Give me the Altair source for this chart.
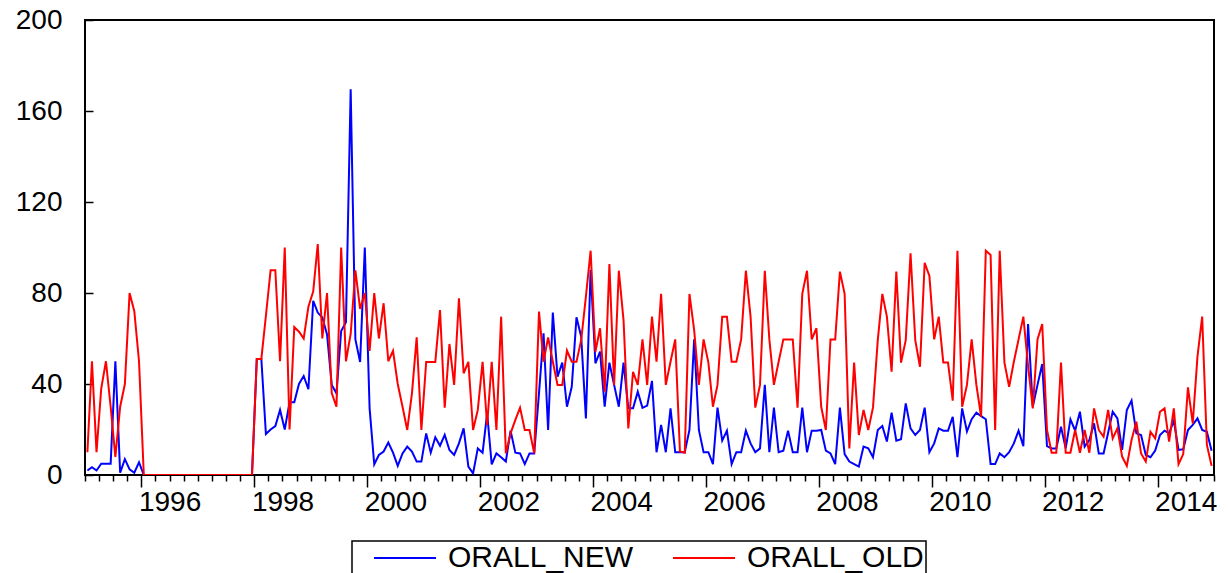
import altair as alt
import pandas as pd

series_names = ["ORALL_NEW", "ORALL_OLD"]
series_colors = ["#0000FF", "#FF0000"]
start_month = "1995-01-01"

orall_new = [
    2, 3.4, 2, 5, 5, 5, 50, 1, 7, 2.5, 1, 5.6,                       # 1995
    0, 0, 0, 0, 0, 0, 0, 0, 0, 0, 0, 0,                              # 1996
    0, 0, 0, 0, 0, 0, 0, 0, 0, 0, 0, 0,                              # 1997
    51, 51, 18, 20, 21.5, 28.6, 20, 32, 32, 40, 43.5, 37.7,          # 1998
    76.6, 71.4, 69.2, 61.8, 39.6, 35.9, 63.3, 67.1, 169.5, 59.6, 49.7, 100,  # 1999
    29.3, 4.7, 8.8, 10.3, 14.3, 9.8, 4, 9.5, 12.5, 10.3, 5.9, 5.9,  # 2000
    18.3, 9.8, 16.6, 12.9, 17.6, 11, 8.8, 13.9, 20.5, 3.7, 0.7, 11.7,  # 2001
    9.8, 27.1, 4.7, 9.5, 7.8, 5.9, 19.5, 9.8, 9.5, 4.8, 9.5, 9.5,   # 2002
    36, 62.3, 19.8, 71.4, 43.2, 49.4, 30, 38.8, 69.3, 60.8, 24.9, 90.1,  # 2003
    49.1, 54.2, 30, 49.4, 39.6, 30, 49.4, 29.3, 29.3, 36.6, 29.5, 30.5,  # 2004
    41.4, 10, 22, 10, 29.3, 10, 10, 10, 19.8, 59.6, 19.8, 10,        # 2005
    10, 4.8, 29.6, 15.1, 19.5, 4.8, 10, 10, 19.5, 13.9, 10, 11.7,    # 2006
    39.6, 10, 29.6, 10, 10.7, 19.5, 10, 10, 29.6, 10, 19.5, 19.5,    # 2007
    19.8, 10.7, 9.5, 4.8, 29.6, 9.2, 5.9, 4.8, 3.7, 12.5, 11.7, 7.8,  # 2008
    19.8, 21.5, 14.7, 27.4, 15.1, 15.7, 31.5, 20.5, 17.6, 19.8, 29.6, 10,  # 2009
    13.9, 20.5, 19.5, 19.5, 25.6, 7.8, 29.3, 19.1, 24.5, 27.4, 25.9, 24.5,  # 2010
    4.8, 4.8, 9.5, 7.8, 10, 13.9, 19.5, 12.7, 66.4, 30, 39.6, 48.8,  # 2011
    12.7, 11.7, 11.7, 21.2, 11.7, 24.5, 19.5, 27.8, 12.5, 15.4, 22.7, 9.5,  # 2012
    9.5, 18.6, 27.8, 24.9, 11, 28.6, 32.7, 18.3, 17.6, 8.8, 7.8, 10.7,  # 2013
    17.6, 19.5, 18.3, 23.9, 11, 11.3, 19.8, 22, 24.9, 19.8, 19, 10.7,  # 2014
]

orall_old = [
    10, 50, 10, 38, 50, 30, 8, 30, 40, 80, 72, 50,                   # 1995
    0, 0, 0, 0, 0, 0, 0, 0, 0, 0, 0, 0,                              # 1996
    0, 0, 0, 0, 0, 0, 0, 0, 0, 0, 0, 0,                              # 1997
    51, 51, 70, 90, 90, 50, 100, 20, 65, 63, 60, 74,                 # 1998
    80.6, 101.5, 60, 80, 36, 30, 100, 50, 62, 90, 73, 80,            # 1999
    54.5, 80, 60, 75.5, 50, 54.6, 40, 30, 19.8, 35.9, 60.5, 19.8,    # 2000
    49.7, 49.7, 49.7, 72.5, 29.6, 57.6, 39.6, 77.7, 44.7, 49.7, 19.8, 28.6,  # 2001
    49.7, 22, 49.7, 19.8, 69.6, 9.5, 18.3, 24.2, 29.6, 19.8, 19.8, 9.5,  # 2002
    71.8, 49.8, 60.5, 49.8, 39.6, 39.6, 54.7, 49.8, 49.8, 59.3, 78.4, 98.6,  # 2003
    54.2, 64.5, 36.6, 92.7, 39.6, 89.8, 68.1, 20.5, 45.4, 39.6, 59.6, 39.6,  # 2004
    69.6, 49.8, 79.6, 39.6, 49.8, 59.6, 10.3, 9.8, 79.6, 63.7, 39.6, 59.6,  # 2005
    49.4, 30, 39.6, 69.6, 69.6, 49.8, 49.8, 59.6, 89.8, 69.6, 29.6, 39.6,  # 2006
    89.8, 59.6, 39.6, 49.8, 59.6, 59.6, 59.6, 29.6, 79.6, 89.8, 59.6, 64.5,  # 2007
    30, 19.8, 59.6, 59.6, 89.4, 79.6, 11.7, 49.4, 17.6, 28.6, 19.8, 29.6,  # 2008
    59.3, 79.6, 69.6, 45.4, 89.4, 49.4, 59.3, 97.4, 59.3, 47.6, 93.3, 87.5,  # 2009
    59.6, 69.6, 49.4, 49.4, 32.7, 98.6, 30, 39.6, 59.6, 39.6, 25.6, 98.6,  # 2010
    96.7, 19.8, 98.6, 49.4, 38.8, 49.8, 59.6, 69.6, 48, 29.3, 59.6, 66.4,  # 2011
    19.8, 9.8, 9.8, 49.4, 9.8, 9.8, 19.8, 9.8, 19.8, 9.8, 29.3, 19.8,  # 2012
    16.8, 28.6, 16.1, 20.5, 8.1, 4, 15.4, 23.4, 9.5, 5.9, 19, 16.1,  # 2013
    27.8, 29.3, 14.7, 29.3, 4.8, 9.2, 38.5, 22.7, 52, 69.6, 13.2, 4,  # 2014
]

y_ticks = [0, 40, 80, 120, 160, 200]

months = pd.date_range(start_month, periods=len(orall_new), freq="MS").strftime("%Y-%m-%d").tolist()
df = pd.DataFrame({
    "date": months + months,
    "value": orall_new + orall_old,
    "series": [series_names[0]] * len(orall_new) + [series_names[1]] * len(orall_old),
})

FONT = "Liberation Sans"
FS = 28
major_test = "utcmonth(datum.value) === 0 && utcyear(datum.value) % 2 === 0"

chart = alt.Chart(df).mark_line(strokeWidth=2, clip=True).encode(
    x=alt.X(
        "utcyearmonth(date):T",
        bandPosition=0.5,
        scale=alt.Scale(
            type="utc",
            domain=[alt.DateTime(year=1995, month=1, date=1, utc=True),
                    alt.DateTime(year=2015, month=1, date=1, utc=True)],
            nice=False,
        ),
        axis=alt.Axis(
            title=None,
            grid=False,
            domain=False,
            tickCount=alt.TimeIntervalStep(interval="month", step=3),
            tickSize={"condition": {"test": major_test, "value": 12}, "value": 6},
            tickColor="black",
            tickWidth=1.5,
            labelExpr=f"({major_test}) ? utcFormat(datum.value, '%Y') : ''",
            labelAlign="left",
            labelBaseline="top",
            labelPadding=1,
            labelOffset=-3,
            labelOverlap=False,
            labelFlush=False,
            labelBound=False,
            labelFont=FONT,
            labelFontSize=FS,
            labelColor="black",
        ),
    ),
    y=alt.Y(
        "value:Q",
        scale=alt.Scale(domain=[0, 200], nice=False, zero=True),
        axis=alt.Axis(
            title=None,
            grid=False,
            domain=False,
            values=y_ticks,
            offset=-8,
            tickSize=8,
            tickColor="black",
            tickWidth=1.5,
            labelPadding=23,
            labelFont=FONT,
            labelFontSize=FS,
            labelColor="black",
        ),
    ),
    color=alt.Color(
        "series:N",
        scale=alt.Scale(domain=series_names, range=series_colors),
        legend=alt.Legend(
            title=None,
            orient="none",
            legendX=267,
            legendY=521,
            direction="horizontal",
            symbolType="M0.5,0H6.7",
            symbolSize=400,
            symbolStrokeWidth=2,
            labelFont=FONT,
            labelFontSize=30,
            labelColor="black",
            labelLimit=600,
            labelOffset=64,
            columnPadding=19,
            padding=2,
            strokeColor="black",
        ),
    ),
).properties(
    width=1129,
    height=455,
    autosize=alt.AutoSizeParams(type="none"),
    padding={"left": 77, "top": 12, "right": 7, "bottom": 120},
    background="white",
).configure_view(
    stroke="black",
    strokeWidth=2,
).configure_legend(
    strokeWidth=1.5,
)

chart.save("out.html", embed_options={"renderer": "svg", "actions": False})
